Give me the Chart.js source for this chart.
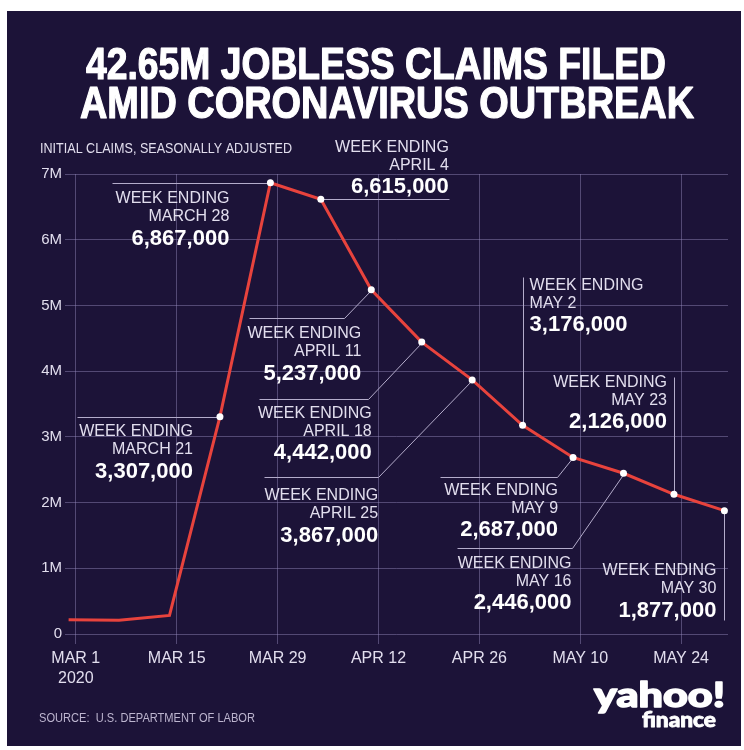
<!DOCTYPE html>
<html>
<head>
<meta charset="utf-8">
<script src="https://cdn.jsdelivr.net/npm/chart.js@4.4.1/dist/chart.umd.min.js"></script>
<style>
  body { margin: 0; background: #fff; }
  #wrap { width: 744px; height: 750px; }
</style>
</head>
<body>
<div id="wrap"><canvas id="chart" width="744" height="750"></canvas></div>
<script>
// weekly initial claims, seasonally adjusted
const weekEnding = ['2020-02-29', '2020-03-07', '2020-03-14', '2020-03-21', '2020-03-28', '2020-04-04', '2020-04-11',
    '2020-04-18', '2020-04-25', '2020-05-02', '2020-05-09', '2020-05-16', '2020-05-23', '2020-05-30'];
const claims = [217000, 211000, 282000, 3307000, 6867000, 6615000, 5237000,
    4442000, 3867000, 3176000, 2687000, 2446000, 2126000, 1877000];
const weekNames = [null, null, null, 'MARCH 21', 'MARCH 28', 'APRIL 4', 'APRIL 11',
    'APRIL 18', 'APRIL 25', 'MAY 2', 'MAY 9', 'MAY 16', 'MAY 23', 'MAY 30'];

const xTickDays = [0, 14, 28, 42, 56, 70, 84];
const xTickLabels = [['MAR 1', '2020'], 'MAR 15', 'MAR 29', 'APR 12', 'APR 26', 'MAY 10', 'MAY 24'];
const yTickLabels = ['0', '1M', '2M', '3M', '4M', '5M', '6M', '7M'];

const titleLines = ['42.65M JOBLESS CLAIMS FILED', 'AMID CORONAVIRUS OUTBREAK'];
const subtitle = 'INITIAL CLAIMS, SEASONALLY ADJUSTED';
const source = 'SOURCE:  U.S. DEPARTMENT OF LABOR';

// days since Mar 1 2020
const start = Date.UTC(2020, 2, 1);
const days = weekEnding.map(d => (Date.parse(d) - start) / 86400000);

// callout layout, pixel offsets from the point
const callouts = {
    3: { leader: [[0, 0], [-143, 0]], tx: -27, ty: 15, align: 'right' },
    4: { leader: [[0, 0], [-158, 0]], tx: -41, ty: 16, align: 'right' },
    5: { leader: [[0, 0], [128, 0]], tx: 128, ty: -52, align: 'right' },
    6: { leader: [[0, 0], [-27, 28], [-122, 28]], tx: -10, ty: 44, align: 'right' },
    7: { leader: [[0, 0], [-54, 57], [-163, 57]], tx: -50, ty: 71, align: 'right' },
    8: { leader: [[0, 0], [-94, 97], [-208, 97]], tx: -94, ty: 116, align: 'right' },
    9: { leader: [[0, 0], [0, -148]], tx: 7, ty: -140, align: 'left' },
    10: { leader: [[0, 0], [-16, 20], [-133, 20]], tx: -15, ty: 33, align: 'right' },
    11: { leader: [[0, 0], [-52, 75], [-167, 75]], tx: -52, ty: 90, align: 'right' },
    12: { leader: [[0, 0], [0, -117]], tx: -7, ty: -112, align: 'right' },
    13: { leader: [[0, 0], [0, 109]], tx: -8, ty: 60, align: 'right' }
};

const BG = '#1c1338';
const GRID = 'rgba(150, 140, 190, 0.45)';
const LIGHT = '#e2deee';

function fitText(ctx, text, x, y, width, stroke) {
    const w = ctx.measureText(text).width;
    ctx.save();
    ctx.translate(x, y);
    ctx.scale(width / w, 1);
    ctx.textAlign = 'left';
    ctx.fillText(text, 0, 0);
    if (stroke) {
        ctx.lineWidth = stroke;
        ctx.strokeStyle = ctx.fillStyle;
        ctx.lineJoin = 'round';
        ctx.strokeText(text, 0, 0);
    }
    ctx.restore();
}

const decor = {
    id: 'decor',
    beforeDraw(chart) {
        const ctx = chart.ctx;
        ctx.save();
        ctx.fillStyle = BG;
        ctx.fillRect(7, 11, 734, 735);
        ctx.restore();
    },
    beforeDatasetsDraw(chart) {
        const ctx = chart.ctx;
        const meta = chart.getDatasetMeta(0);
        ctx.save();
        ctx.strokeStyle = '#b4accb';
        ctx.lineWidth = 1;
        Object.keys(callouts).forEach(i => {
            const p = meta.data[i];
            const c = callouts[i];
            ctx.beginPath();
            c.leader.forEach(([dx, dy], k) => {
                const x = Math.round(p.x + dx) + 0.5, y = Math.round(p.y + dy) + 0.5;
                k ? ctx.lineTo(x, y) : ctx.moveTo(x, y);
            });
            ctx.stroke();
        });
        ctx.restore();
    },
    afterDraw(chart) {
        const ctx = chart.ctx;
        const meta = chart.getDatasetMeta(0);
        ctx.save();
        ctx.textBaseline = 'middle';
        Object.keys(callouts).forEach(i => {
            const p = meta.data[i];
            const c = callouts[i];
            const x = p.x + c.tx, y = p.y + c.ty;
            ctx.textAlign = c.align;
            ctx.fillStyle = LIGHT;
            ctx.font = '16px "Liberation Sans", Arial, sans-serif';
            ctx.fillText('WEEK ENDING', x, y);
            ctx.fillText(weekNames[i], x, y + 18);
            ctx.fillStyle = '#ffffff';
            ctx.font = 'bold 22px "Liberation Sans", Arial, sans-serif';
            ctx.fillText(claims[i].toLocaleString('en-US'), x, y + 40);
        });

        // title
        ctx.textBaseline = 'alphabetic';
        ctx.fillStyle = '#ffffff';
        ctx.font = 'bold 44px "Liberation Sans Narrow", "Liberation Sans", sans-serif';
        fitText(ctx, titleLines[0], 86, 79, 580, 1.2);
        fitText(ctx, titleLines[1], 80, 118, 614, 1.2);

        ctx.textBaseline = 'middle';
        ctx.fillStyle = LIGHT;
        ctx.font = '15px "Liberation Sans Narrow", "Liberation Sans", sans-serif';
        fitText(ctx, subtitle, 40, 149, 252);

        ctx.fillStyle = '#bdb5cf';
        ctx.font = '12px "Liberation Sans Narrow", "Liberation Sans", sans-serif';
        fitText(ctx, source, 39, 719, 216);

        // logo
        ctx.textBaseline = 'alphabetic';
        ctx.fillStyle = '#ffffff';
        ctx.font = '900 34px Lato, "Liberation Sans", sans-serif';
        fitText(ctx, 'yahoo!', 594, 707, 131, 1.5);
        ctx.font = '900 20px Lato, "Liberation Sans", sans-serif';
        fitText(ctx, 'finance', 642, 727, 74, 0.8);
        ctx.restore();
    }
};

new Chart(document.getElementById('chart'), {
    type: 'line',
    data: {
        datasets: [{
            label: 'Initial claims',
            data: days.map((d, i) => ({ x: d, y: claims[i] })),
            borderColor: '#e8433d',
            borderWidth: 3,
            tension: 0,
            pointRadius: weekNames.map(n => n ? 3.5 : 0),
            pointBackgroundColor: '#ffffff',
            pointBorderWidth: 0,
            pointHoverRadius: 0
        }]
    },
    options: {
        responsive: false,
        animation: false,
        events: [],
        layout: { padding: { top: 174, right: 16, bottom: 66, left: 0 } },
        plugins: { legend: { display: false }, tooltip: { enabled: false } },
        scales: {
            x: {
                type: 'linear',
                min: -1.5,
                max: 90.5,
                afterBuildTicks: s => { s.ticks = xTickDays.map(v => ({ value: v })); },
                afterFit: s => { s.height = 50; },
                border: { display: false },
                grid: { color: GRID, lineWidth: 1, tickLength: 10 },
                ticks: {
                    color: LIGHT,
                    font: { family: '"Liberation Sans", Arial, sans-serif', size: 16, lineHeight: 1.25 },
                    padding: 5,
                    maxRotation: 0,
                    callback: (v, i) => xTickLabels[i]
                }
            },
            y: {
                min: 0,
                max: 7000000,
                afterFit: s => { s.width = 65; },
                border: { display: false },
                grid: { color: GRID, lineWidth: 1, drawTicks: false },
                ticks: {
                    stepSize: 1000000,
                    color: LIGHT,
                    padding: 3,
                    font: { family: '"Liberation Sans", Arial, sans-serif', size: 15 },
                    callback: (v, i) => yTickLabels[i]
                }
            }
        }
    },
    plugins: [decor]
});
</script>
</body>
</html>
